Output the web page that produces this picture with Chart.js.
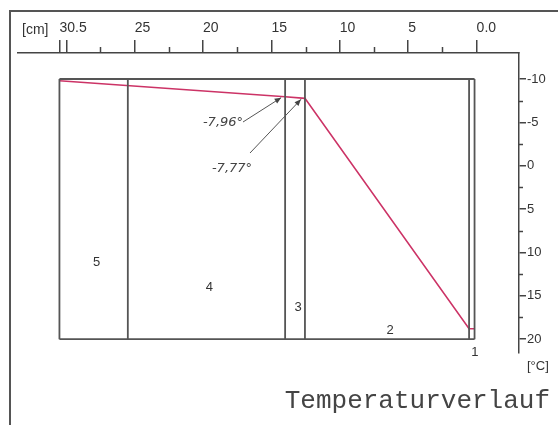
<!DOCTYPE html>
<html>
<head>
<meta charset="utf-8">
<script src="https://cdn.jsdelivr.net/npm/chart.js@4.4.0/dist/chart.umd.min.js"></script>
<style>
html, body { margin: 0; padding: 0; background: #fff; }
#wrap { position: relative; width: 558px; height: 425px; overflow: hidden; }
#frame { position: absolute; left: 9px; top: 10px; width: 600px; height: 500px; border-left: 2px solid #555; border-top: 2px solid #555; }
canvas { position: absolute; left: 0; top: 0; }
</style>
</head>
<body>
<div id="wrap"><div id="frame"></div><canvas id="chart" width="558" height="425"></canvas></div>
<script>

// wall layers (depth in cm, 0 = inside surface)
var layerBounds = [30.5, 25.5, 14.0, 12.55, 0.55, 0.15];
var layerNames = ['5', '4', '3', '2', '1'];

// temperature profile through the wall
var depthCm = [30.5, 14.0, 12.55, 0.55, 0.15];
var tempC = [-9.8, -7.96, -7.77, 18.8, 18.8];

// axes
var depthTicks = [30.5, 30, 27.5, 25, 22.5, 20, 17.5, 15, 12.5, 10, 7.5, 5, 2.5, 0];
var depthLabels = { '30.5': '30.5', '25': '25', '20': '20', '15': '15', '10': '10', '5': '5', '0': '0.0' };
var tempTicks = [-10, -7.5, -5, -2.5, 0, 2.5, 5, 7.5, 10, 12.5, 15, 17.5, 20];
var tempLabels = { '-10': '-10', '-5': '-5', '0': '0', '5': '5', '10': '10', '15': '15', '20': '20' };

// handwritten notes at the layer 4/3 and 3/2 interfaces
var noteIdx = [1, 2];
var noteText = ['-7,96°', '-7,77°'];

var tTop = -10, tBottom = 20;

function isMajor(v, list) { return list[String(v)] !== undefined || v === 30; }

// box outline + layer boundaries, broken with null gaps
var boxPts = [];
layerBounds.forEach(function (b) {
	boxPts.push({ x: b, y: tTop }, { x: b, y: tBottom }, { x: b, y: null });
});
boxPts.push({ x: layerBounds[0], y: tTop }, { x: layerBounds[layerBounds.length - 1], y: tTop }, { x: 0, y: null });
boxPts.push({ x: layerBounds[0], y: tBottom }, { x: layerBounds[layerBounds.length - 1], y: tBottom });

var profile = depthCm.map(function (d, i) { return { x: d, y: tempC[i] }; });

var extras = {
	id: 'extras',
	afterDraw: function (chart) {
		var ctx = chart.ctx, xs = chart.scales.x, ys = chart.scales.y;
		ctx.save();
		ctx.strokeStyle = '#444';
		ctx.lineWidth = 1.5;
		// minor ticks
		depthTicks.forEach(function (v) {
			if (isMajor(v, depthLabels)) return;
			var px = Math.round(xs.getPixelForValue(v)) + 0.5;
			ctx.beginPath(); ctx.moveTo(px, xs.bottom); ctx.lineTo(px, xs.bottom - 6); ctx.stroke();
		});
		tempTicks.forEach(function (v) {
			if (tempLabels[String(v)] !== undefined) return;
			var py = Math.round(ys.getPixelForValue(v)) + 0.5;
			ctx.beginPath(); ctx.moveTo(ys.left, py); ctx.lineTo(ys.left + 4, py); ctx.stroke();
		});

		ctx.fillStyle = '#333';
		ctx.font = '14px "Liberation Sans", Arial, sans-serif';
		ctx.textBaseline = 'middle';
		ctx.textAlign = 'left';
		ctx.fillText('[cm]', 22, 30);
		ctx.font = '13px "Liberation Sans", Arial, sans-serif';
		ctx.fillText('[°C]', 527, 366);

		// layer numbers
		var labelT = [11.1, 14.0, 16.3, 19.0, 21.5];
		ctx.textAlign = 'center';
		layerNames.forEach(function (n, i) {
			var mx = (xs.getPixelForValue(layerBounds[i]) + xs.getPixelForValue(layerBounds[i + 1])) / 2 + 3;
			ctx.fillText(n, mx, ys.getPixelForValue(labelT[i]));
		});

		// notes with arrows
		var notePos = [[223, 123], [232, 169]];
		var tail = [[243, 122], [250, 153]];
		ctx.font = 'italic 13px "DejaVu Sans", sans-serif';
		ctx.fillStyle = '#444';
		ctx.strokeStyle = '#555';
		ctx.lineWidth = 1;
		noteIdx.forEach(function (k, i) {
			ctx.fillText(noteText[i], notePos[i][0], notePos[i][1]);
			var tx = xs.getPixelForValue(depthCm[k]) - 4;
			var ty = ys.getPixelForValue(tempC[k]) + 1;
			var sx = tail[i][0], sy = tail[i][1];
			ctx.beginPath(); ctx.moveTo(sx, sy); ctx.lineTo(tx, ty); ctx.stroke();
			var a = Math.atan2(ty - sy, tx - sx);
			ctx.beginPath();
			ctx.moveTo(tx, ty);
			ctx.lineTo(tx - 7 * Math.cos(a - 0.4), ty - 7 * Math.sin(a - 0.4));
			ctx.lineTo(tx - 7 * Math.cos(a + 0.4), ty - 7 * Math.sin(a + 0.4));
			ctx.closePath();
			ctx.fill();
		});

		ctx.fillStyle = '#444';
		ctx.font = '26px "Liberation Mono", "Courier New", monospace';
		ctx.textAlign = 'right';
		ctx.textBaseline = 'alphabetic';
		ctx.fillText('Temperaturverlauf', 550, 408);
		ctx.restore();
	}
};

new Chart(document.getElementById('chart'), {
	type: 'line',
	data: {
		datasets: [
			{
				data: boxPts,
				borderColor: '#555',
				borderWidth: 1.8,
				pointRadius: 0,
				spanGaps: false,
				tension: 0
			},
			{
				data: profile,
				borderColor: '#cc3366',
				borderWidth: 1.6,
				pointRadius: 0,
				tension: 0
			}
		]
	},
	options: {
		responsive: false,
		animation: false,
		layout: { padding: { left: 18, top: 0, right: 0, bottom: 72 } },
		plugins: { legend: { display: false }, tooltip: { enabled: false } },
		scales: {
			x: {
				type: 'linear',
				position: 'top',
				reverse: true,
				min: -3.1,
				max: 33.53,
				afterBuildTicks: function (s) { s.ticks = depthTicks.map(function (v) { return { value: v }; }); },
				afterFit: function (s) { s.height = 53; },
				grid: {
					drawOnChartArea: false,
					tickLength: 13,
					lineWidth: 1.5,
					color: function (c) { return c.tick && isMajor(c.tick.value, depthLabels) ? '#444' : 'rgba(0,0,0,0)'; }
				},
				border: { display: true, color: '#444', width: 1.5 },
				ticks: {
					autoSkip: false,
					maxRotation: 0,
					align: 'start',
					padding: 3,
					color: '#333',
					font: { family: '"Liberation Sans", Arial, sans-serif', size: 14 },
					callback: function (v) { var l = depthLabels[String(v)]; return l === undefined ? '' : l; }
				}
			},
			y: {
				type: 'linear',
				position: 'right',
				reverse: true,
				min: -13,
				max: 21.6,
				afterBuildTicks: function (s) { s.ticks = tempTicks.map(function (v) { return { value: v }; }); },
				afterFit: function (s) { s.width = 39; },
				grid: {
					drawOnChartArea: false,
					tickLength: 7,
					lineWidth: 1.5,
					color: function (c) { return c.tick && tempLabels[String(c.tick.value)] !== undefined ? '#444' : 'rgba(0,0,0,0)'; }
				},
				border: { display: true, color: '#444', width: 1.5 },
				ticks: {
					autoSkip: false,
					padding: 1,
					color: '#333',
					font: { family: '"Liberation Sans", Arial, sans-serif', size: 13 },
					callback: function (v) { var l = tempLabels[String(v)]; return l === undefined ? '' : l; }
				}
			}
		}
	},
	plugins: [extras]
});
</script>
</body>
</html>
